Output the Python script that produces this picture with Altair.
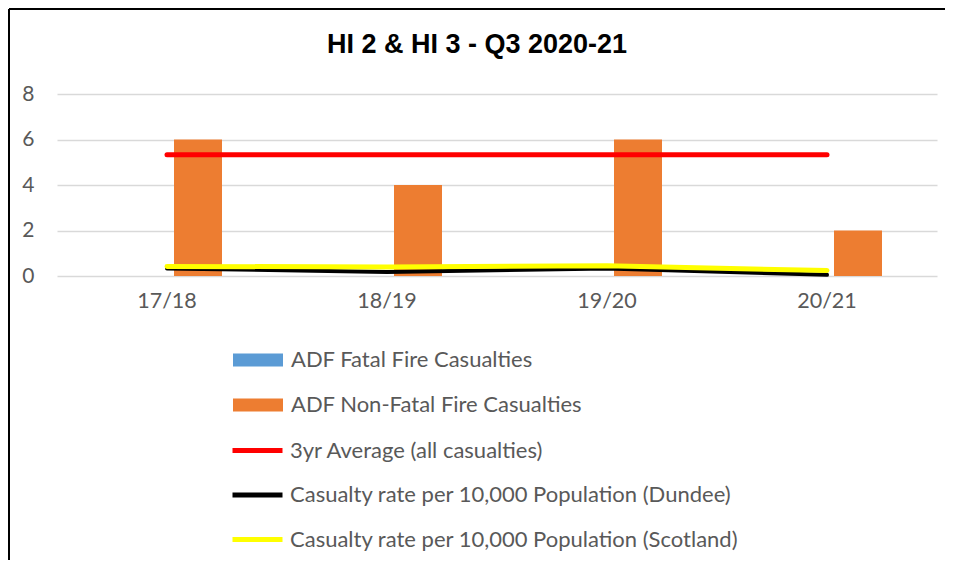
import altair as alt
import pandas as pd

categories = ["17/18", "18/19", "19/20", "20/21"]
fatal = [0, 0, 0, 0]
non_fatal = [6, 4, 6, 2]
avg_3yr = [5.33, 5.33, 5.33, 5.33]
rate_dundee = [0.33, 0.18, 0.33, 0.05]
rate_scotland = [0.42, 0.40, 0.45, 0.24]

S_FATAL = "ADF Fatal Fire Casualties"
S_NONFATAL = "ADF Non-Fatal Fire Casualties"
S_AVG = "3yr Average (all casualties)"
S_DUN = "Casualty rate per 10,000 Population (Dundee)"
S_SCO = "Casualty rate per 10,000 Population (Scotland)"
bar_names = [S_FATAL, S_NONFATAL]
bar_colors = ["#5b9bd5", "#ed7d31"]
line_names = [S_AVG, S_DUN, S_SCO]
line_colors = ["#ff0000", "#000000", "#ffff00"]

bars_df = pd.DataFrame({
    "cat": categories * 2,
    "series": [S_FATAL] * 4 + [S_NONFATAL] * 4,
    "value": fatal + non_fatal,
})

def line_df(name, vals):
    return pd.DataFrame({"cat": categories, "line": [name] * 4, "value": vals})

FONT = "Lato"
TXT = "#595959"

legend_common = dict(
    title=None,
    orient="none",
    direction="vertical",
    symbolSize=2500,
    labelFont=FONT,
    labelFontSize=22,
    labelColor=TXT,
    labelLimit=700,
)

fill_enc = alt.Fill(
    "series:N",
    scale=alt.Scale(domain=bar_names, range=bar_colors),
    legend=alt.Legend(
        legendX=176, legendY=241,
        symbolType="M-1,-0.26H1V0.26H-1Z",
        symbolStrokeWidth=0,
        rowPadding=9,
        labelOffset=8,
        **legend_common,
    ),
)
stroke_enc = alt.Stroke(
    "line:N",
    scale=alt.Scale(domain=line_names, range=line_colors),
    legend=alt.Legend(
        legendX=173, legendY=329,
        symbolType="stroke",
        symbolStrokeWidth=5,
        rowPadding=5.5,
        labelOffset=5,
        **legend_common,
    ),
)

x = alt.X(
    "cat:N",
    sort=categories,
    scale=alt.Scale(paddingInner=0, paddingOuter=0),
    axis=alt.Axis(
        title=None, labelAngle=0, ticks=False, tickSize=0, domain=False,
        labelFont=FONT, labelFontSize=21.5, labelColor=TXT, labelPadding=14,
    ),
)
y = alt.Y(
    "value:Q",
    scale=alt.Scale(domain=[0, 8], nice=False),
    axis=alt.Axis(
        title=None, values=[0, 2, 4, 6, 8], ticks=False, tickSize=0, domain=False,
        labelFont=FONT, labelFontSize=21, labelColor=TXT, labelPadding=23,
        gridColor="#d9d9d9", gridWidth=1.5,
    ),
)

bars = alt.Chart(bars_df).mark_bar().encode(
    x=x,
    xOffset=alt.XOffset(
        "series:N",
        sort=bar_names,
        scale=alt.Scale(domain=bar_names, paddingInner=0.226, paddingOuter=0.887),
    ),
    y=y,
    fill=fill_enc,
)

def make_line(name, vals, width):
    return alt.Chart(line_df(name, vals)).mark_line(
        strokeWidth=width, strokeCap="round", strokeJoin="round"
    ).encode(x=x, y=y, stroke=stroke_enc)

red = make_line(S_AVG, avg_3yr, 5)
black = make_line(S_DUN, rate_dundee, 4)
yellow = make_line(S_SCO, rate_scotland, 5)

border_df = pd.DataFrame({"k": [0]})
left_border = alt.Chart(border_df).mark_rule(color="#000000", strokeWidth=2).encode(
    x=alt.value(-48), y=alt.value(-85), y2=alt.value(470)
)
top_border = alt.Chart(border_df).mark_rule(color="#000000", strokeWidth=2).encode(
    x=alt.value(-48), x2=alt.value(900), y=alt.value(-85)
)

chart = alt.layer(bars, red, black, yellow, left_border, top_border).properties(
    width=880,
    height=182,
    autosize="none",
    background="white",
    padding={"left": 49, "top": 86, "right": 8, "bottom": 284},
    title=alt.TitleParams(
        text="HI 2 & HI 3 - Q3 2020-21",
        font="Liberation Sans",
        fontSize=27,
        fontWeight="bold",
        color="#000000",
        anchor="middle",
        frame="group",
        offset=-51,
        dx=-20,
    ),
).configure_view(strokeWidth=0, stroke="transparent")

chart.save("out.html", embed_options={"renderer": "svg", "actions": False})
